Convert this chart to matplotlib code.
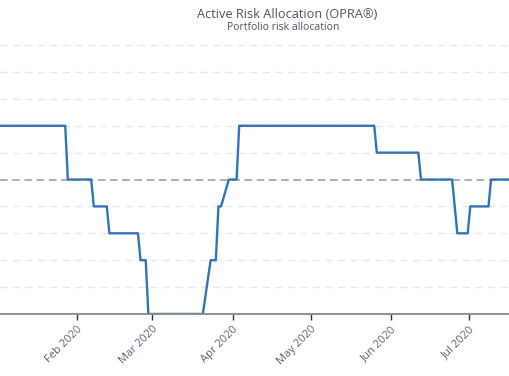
import pandas as pd
import matplotlib.pyplot as plt
import matplotlib.dates as mdates

plt.rcParams['font.family'] = ['Open Sans', 'DejaVu Sans']

# allocation level changes (date, level)
dates = ["2020-01-02", "2020-01-27", "2020-01-28", "2020-02-06", "2020-02-07",
         "2020-02-12", "2020-02-13", "2020-02-24", "2020-02-25", "2020-02-27",
         "2020-02-28", "2020-03-20", "2020-03-23", "2020-03-25", "2020-03-26",
         "2020-03-27", "2020-03-30", "2020-04-02", "2020-04-03", "2020-05-25",
         "2020-05-26", "2020-06-11", "2020-06-12", "2020-06-24", "2020-06-26",
         "2020-06-30", "2020-07-01", "2020-07-08", "2020-07-09", "2020-07-17"]
levels = [2, 2, 0, 0, -1,
          -1, -2, -2, -3, -3,
          -5, -5, -3, -3, -1,
          -1, 0, 0, 2, 2,
          1, 1, 0, 0, -2,
          -2, -1, -1, 0, 0]
grid_levels = [-4, -3, -2, -1, 1, 2, 3, 4, 5]

x = pd.to_datetime(dates) + pd.Timedelta(hours=12)

fig = plt.figure(figsize=(5.10, 3.76), dpi=100)
ax = fig.add_axes([0, 0.165, 1, 0.715])

for g in grid_levels:
    ax.axhline(g, color='#e3e7ee', lw=1, ls=(0, (5, 4)), zorder=1)
ax.axhline(0, color='#9a9a9a', lw=1.1, ls=(0, (5, 3)), zorder=2)

ax.plot(x, levels, color='#3274b5', lw=1.7, zorder=3)

ax.set_ylim(-5, 5)
ax.set_xlim(pd.Timestamp("2020-01-02 09:00"), pd.Timestamp("2020-07-16 19:00"))
ax.set_yticks([])

ax.xaxis.set_major_locator(mdates.MonthLocator(bymonth=[2, 3, 4, 5, 6, 7]))
ax.xaxis.set_major_formatter(mdates.DateFormatter('%b %Y'))
ax.tick_params(axis='x', length=4, width=1, color='#333333',
               labelsize=8, labelcolor='#5b6478', pad=3)
for lab in ax.get_xticklabels():
    lab.set_rotation(45)
    lab.set_ha('right')
    lab.set_rotation_mode('anchor')

for s in ['top', 'left', 'right']:
    ax.spines[s].set_visible(False)
ax.spines['bottom'].set_color('#888888')
ax.spines['bottom'].set_linewidth(1.3)
ax.spines['bottom'].set_zorder(4)

fig.text(287 / 510, 1 - 15 / 376, "Active Risk Allocation (OPRA®)",
         ha='center', va='center', fontsize=9.2, color='#4a5468')
fig.text(283 / 510, 1 - 28 / 376, "Portfolio risk allocation",
         ha='center', va='center', fontsize=7.5, color='#4a5468')

fig.savefig("out.png", dpi=100)
